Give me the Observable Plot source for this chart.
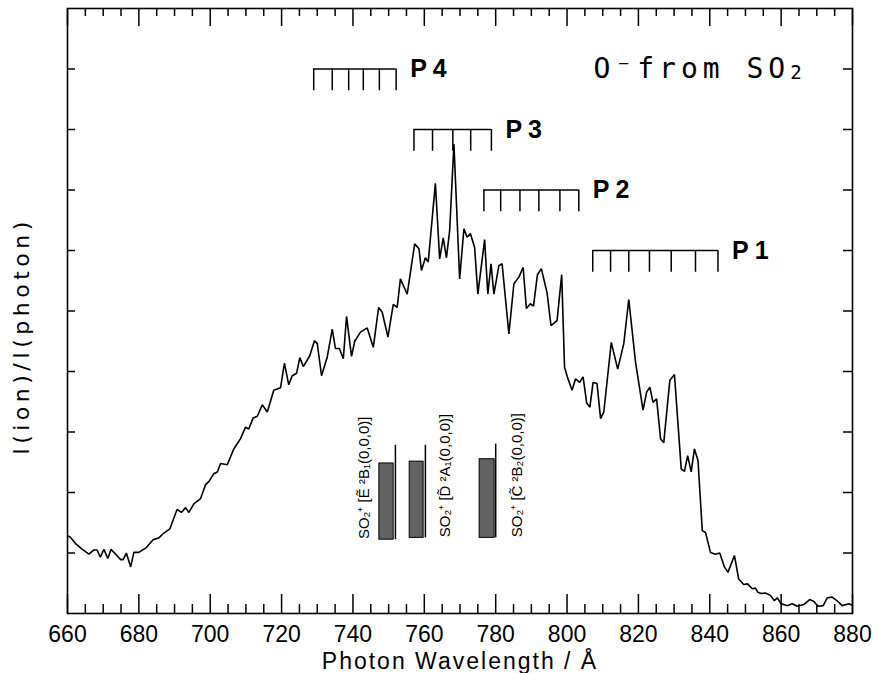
<!DOCTYPE html>
<html><head><meta charset="utf-8">
<script src="https://cdn.jsdelivr.net/npm/d3@7"></script>
<script src="https://cdn.jsdelivr.net/npm/@observablehq/plot@0.6"></script>
<style>
html,body{margin:0;padding:0;background:#fff;}
#chart{width:878px;height:673px;}
</style>
</head><body><div id="chart"></div>
<script>
// ---- spectrum (photon wavelength in Å, relative O- yield) ----
const wavelength = [
  660.2,660.8,662.2,664.0,666.0,667.4,668.3,669.2,670.2,671.3,672.2,673.5,674.9,675.6,676.5,677.7,678.6,680.0,
  682.1,684.0,685.6,687.0,688.7,690.7,691.9,693.1,694.0,695.4,697.3,698.7,699.6,701.0,702.0,702.9,704.8,706.6,
  708.5,709.9,710.8,712.0,713.2,714.6,716.0,717.8,719.7,720.8,722.0,723.0,724.2,725.1,726.1,727.9,729.2,730.0,
  731.2,732.8,734.2,735.1,736.2,737.3,738.2,739.6,740.5,742.1,744.0,745.7,747.2,748.2,749.8,751.3,752.4,753.3,
  755.2,757.3,758.5,759.2,760.3,761.1,763.1,764.3,765.3,766.2,767.1,768.3,769.9,771.1,772.0,772.9,774.1,775.0,
  776.9,777.8,778.7,779.5,780.9,781.8,783.7,785.1,786.5,787.7,788.6,789.7,790.6,791.7,792.8,794.4,795.5,797.2,
  798.5,799.3,800.1,801.4,802.4,803.5,804.5,805.5,806.4,807.3,808.4,809.4,810.3,812.4,814.2,815.9,817.3,819.2,
  821.3,822.3,823.2,824.1,825.1,826.2,827.1,828.8,830.1,832.0,832.9,833.8,834.8,835.7,836.7,837.9,838.8,840.2,
  841.6,842.8,844.1,845.1,846.9,848.1,849.5,850.6,851.9,852.8,853.5,854.4,855.6,857.0,858.1,858.9,860.0,861.7,
  863.1,864.5,866.4,868.0,869.2,870.3,871.8,872.9,874.3,875.7,877.1,879.0,880.0
];
const ionYield = [
  1.28,1.26,1.16,1.07,0.98,1.05,1.05,0.93,1.06,0.91,1.06,0.98,0.89,0.89,1.00,0.77,1.01,1.01,
  1.09,1.22,1.25,1.33,1.40,1.72,1.67,1.75,1.67,1.81,1.90,2.13,2.18,2.31,2.34,2.48,2.46,2.72,
  2.89,3.08,3.05,3.23,3.26,3.45,3.33,3.69,3.73,4.14,3.78,3.93,3.97,4.23,4.08,4.26,4.51,4.46,
  3.93,4.24,4.70,4.38,4.38,4.21,4.91,4.25,4.50,4.65,4.72,4.40,5.06,4.98,4.57,5.11,5.06,5.53,
  5.28,6.11,6.03,5.67,5.88,5.81,7.11,5.86,6.21,5.88,6.33,7.76,5.53,6.36,6.22,6.28,6.05,5.28,
  6.18,5.28,5.78,5.28,5.75,5.78,4.62,5.45,5.56,5.72,5.04,5.12,5.08,5.60,5.70,5.30,4.76,4.84,
  5.60,4.07,3.91,3.69,3.88,3.82,3.91,3.48,3.41,3.82,3.80,3.22,3.33,4.48,4.04,4.46,5.19,4.15,
  3.36,3.66,3.74,3.49,3.55,2.89,2.82,3.85,3.95,2.39,2.35,2.61,2.34,2.72,2.53,1.37,1.34,1.01,
  0.98,1.00,0.77,0.68,0.96,0.57,0.48,0.49,0.41,0.42,0.35,0.33,0.34,0.30,0.21,0.26,0.16,0.13,
  0.16,0.12,0.15,0.23,0.20,0.12,0.13,0.26,0.27,0.21,0.13,0.16,0.13
];

// ---- axes ----
const majorTicksX = [660,680,700,720,740,760,780,800,820,840,860,880];
const minorTicksX = [665,670,675,685,690,695,705,710,715,725,730,735,745,750,755,765,770,775,
                     785,790,795,805,810,815,825,830,835,845,850,855,865,870,875];
const ticksY = [1,2,3,4,5,6,7,8,9];
const xTitle = "Photon Wavelength / Å";
const yTitle = "I(ion)/I(photon)";
const panelTitle = "O⁻from SO₂";

// ---- vibrational progressions (comb markers) ----
const progNames = ["P1","P2","P3","P4"];
const progLevel = [6, 7, 8, 9];
const progTeeth = [
  [807.2,812.2,817.3,823.1,829.2,836.0,842.3],
  [776.7,781.4,786.8,792.1,798.0,803.3],
  [757.1,762.3,768.0,773.0,778.8],
  [729.0,734.2,738.8,742.9,747.4,752.1]
];
const toothDepth = 0.36;

// ---- SO2+ state thresholds (shaded bars) ----
const bandLabels = ["SO₂⁺ [Ẽ ²B₁(0,0,0)]","SO₂⁺ [D̃ ²A₁(0,0,0)]","SO₂⁺ [C̃ ²B₂(0,0,0)]"];
const bandX1 = [747.4, 755.9, 775.5];
const bandX2 = [751.4, 759.8, 779.7];
const bandLow = [1.22, 1.25, 1.25];
const bandHigh = [2.48, 2.51, 2.55];
const bandEdge = [751.9, 760.3, 780.0];
const bandEdgeTop = [2.78, 2.78, 2.80];
const bandLabelX = [744.4, 767.3, 787.5];

// ---- build tables ----
const spectrum = wavelength.map((w, i) => ({w, v: ionYield[i]}));
const combs = progNames.map((name, i) => ({name, level: progLevel[i], x1: progTeeth[i][0], x2: progTeeth[i][progTeeth[i].length - 1]}));
const teeth = progNames.flatMap((name, i) => progTeeth[i].map(t => ({t, level: progLevel[i]})));
const bands = bandLabels.map((label, i) => ({label, x1: bandX1[i], x2: bandX2[i], lo: bandLow[i], hi: bandHigh[i], edge: bandEdge[i], top: bandEdgeTop[i], lx: bandLabelX[i]}));

const W = 878, H = 673, ML = 67, MR = 26, MT = 8, MB = 60;
const FW = W - ML - MR, FH = H - MT - MB;

const chart = Plot.plot({
  width: W, height: H,
  marginLeft: ML, marginRight: MR, marginTop: MT, marginBottom: MB,
  x: {domain: [660, 880]},
  y: {domain: [0, 10], axis: null},
  style: {fontFamily: "'Liberation Sans', Arial, sans-serif", background: "#fff", color: "#000", overflow: "visible"},
  marks: [
    // ticks, all pointing inward
    Plot.tickX(majorTicksX, {x: d => d, insetTop: FH - 19, stroke: "#000", strokeWidth: 1.5}),
    Plot.tickX(minorTicksX, {x: d => d, insetTop: FH - 9, stroke: "#000", strokeWidth: 1.5}),
    Plot.tickX(majorTicksX, {x: d => d, insetBottom: FH - 18, stroke: "#000", strokeWidth: 1.5}),
    Plot.tickX(minorTicksX, {x: d => d, insetBottom: FH - 8, stroke: "#000", strokeWidth: 1.5}),
    Plot.tickY(ticksY, {y: d => d, insetRight: FW - 8, stroke: "#000", strokeWidth: 1.5}),
    Plot.tickY(ticksY, {y: d => d, insetLeft: FW - 9, stroke: "#000", strokeWidth: 1.5}),
    Plot.axisX({ticks: majorTicksX, tickSize: 0, tickPadding: 12, fontSize: 23, label: null, tickFormat: d => String(d)}),
    Plot.frame({stroke: "#000", strokeWidth: 1.6}),
    // spectrum
    Plot.line(spectrum, {x: "w", y: "v", stroke: "#000", strokeWidth: 1.6, strokeLinejoin: "miter"}),
    // comb markers
    Plot.ruleY(combs, {y: "level", x1: "x1", x2: "x2", stroke: "#000", strokeWidth: 1.5}),
    Plot.ruleX(teeth, {x: "t", y1: d => d.level - toothDepth, y2: "level", stroke: "#000", strokeWidth: 1.5}),
    Plot.text(combs, {x: "x2", y: "level", text: "name", dx: 14, textAnchor: "start", lineAnchor: "middle", fontSize: 25, fontWeight: "bold"}),
    // threshold bars
    Plot.rectX(bands, {x1: "x1", x2: "x2", y1: "lo", y2: "hi", fill: "#626262", stroke: "#000", strokeWidth: 1}),
    Plot.ruleX(bands, {x: "edge", y1: "lo", y2: "top", stroke: "#000", strokeWidth: 1.5}),
    Plot.text(bands, {x: "lx", y: d => d.lo + 0.01, text: "label", rotate: -90, textAnchor: "start", lineAnchor: "bottom", fontSize: 15}),
    // titles
    Plot.text([panelTitle], {text: d => d, frameAnchor: "top-left", dx: 526, dy: 69, textAnchor: "start", lineAnchor: "bottom", fontSize: 28, fontFamily: "'DejaVu Sans Mono', monospace"}),
    Plot.text([xTitle], {text: d => d, frameAnchor: "bottom", dy: 55, textAnchor: "middle", lineAnchor: "bottom", fontSize: 23}),
    Plot.text([yTitle], {text: d => d, frameAnchor: "left", dx: -46, dy: 25, rotate: -90, textAnchor: "middle", lineAnchor: "middle", fontSize: 22, fontFamily: "'DejaVu Sans', sans-serif"})
  ]
});

// typographic touches: letter spacing and a real subscript for the panel title
d3.select(chart).selectAll("text").each(function () {
  const s = this.textContent;
  if (progNames.includes(s)) this.setAttribute("letter-spacing", "6");
  if (s === xTitle) this.setAttribute("letter-spacing", "2");
  if (s === yTitle) this.setAttribute("letter-spacing", "4.5");
  if (s === panelTitle) {
    this.setAttribute("letter-spacing", "5");
    const main = panelTitle.replace("₂", "");
    while (this.firstChild) this.removeChild(this.firstChild);
    const a = document.createElementNS("http://www.w3.org/2000/svg", "tspan");
    a.textContent = main;
    const b = document.createElementNS("http://www.w3.org/2000/svg", "tspan");
    b.textContent = "2";
    b.setAttribute("font-size", "19");
    b.setAttribute("dy", "1");
    this.appendChild(a);
    this.appendChild(b);
  }
});
document.getElementById("chart").appendChild(chart);
</script>
</body></html>
